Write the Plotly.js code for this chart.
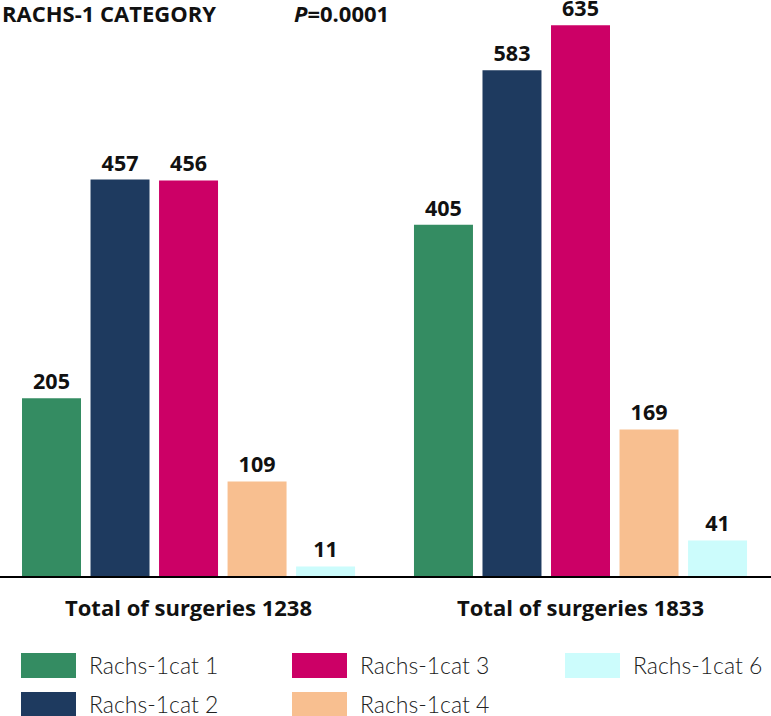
<!DOCTYPE html>
<html>
<head>
<meta charset="utf-8">
<script src="https://cdn.plot.ly/plotly-3.0.1.min.js"></script>
<style>html,body{margin:0;padding:0;background:#fff}#chart{width:771px;height:716px}</style>
</head>
<body>
<div id="chart"></div>
<script>
// Data
const groups = ["Total of surgeries 1238", "Total of surgeries 1833"];
const seriesNames = ["Rachs-1cat 1", "Rachs-1cat 2", "Rachs-1cat 3", "Rachs-1cat 4", "Rachs-1cat 6"];
const cat1 = [205, 405];
const cat2 = [457, 583];
const cat3 = [456, 635];
const cat4 = [109, 169];
const cat6 = [11, 41];
const seriesValues = [cat1, cat2, cat3, cat4, cat6];
const colors = ["#348c62", "#1e3a5f", "#cc0066", "#f8bf90", "#ccfcfc"];
const chartTitle = "RACHS-1 CATEGORY";
const pText = "<i>P</i>=0.0001";

const FONT = "Open Sans, Noto Sans, sans-serif";
const LFONT = "Lato, Open Sans, sans-serif";
const xPos = groups.map((g, i) => i);

const traces = seriesValues.map((vals, i) => ({
  type: "bar",
  name: seriesNames[i],
  x: xPos,
  y: vals,
  marker: { color: colors[i], line: { width: 0 } },
  text: vals.map(String),
  textposition: "outside",
  textfont: { family: FONT, size: 21.5, color: "#111", weight: 700 },
  cliponaxis: false,
  showlegend: false,
  hoverinfo: "skip"
}));

const H = 576; // plot height px
const toPaperY = px => (H - px) / H;

const annotations = [
  { text: "<b>" + chartTitle + "</b>", xref: "paper", yref: "paper", x: 0, y: toPaperY(13),
    xanchor: "left", yanchor: "middle", showarrow: false, font: { family: FONT, size: 22, color: "#111" } },
  { text: "<b>" + pText + "</b>", xref: "paper", yref: "paper", x: 292 / 771, y: toPaperY(13),
    xanchor: "left", yanchor: "middle", showarrow: false, font: { family: FONT, size: 22, color: "#111" } }
];
groups.forEach((g, i) => {
  annotations.push({ text: "<b>" + g + "</b>", xref: "x", yref: "paper", x: xPos[i], y: toPaperY(607),
    xanchor: "center", yanchor: "middle", showarrow: false, font: { family: FONT, size: 22, color: "#111" } });
});

// manual legend (column-major order)
const legendCells = [
  { idx: 0, x: 21, y: 653 }, { idx: 1, x: 21, y: 692 },
  { idx: 2, x: 292, y: 653 }, { idx: 3, x: 292, y: 692 },
  { idx: 4, x: 565, y: 653 }
];
const shapes = [];
legendCells.forEach(c => {
  shapes.push({ type: "rect", xref: "paper", yref: "paper",
    x0: c.x / 771, x1: (c.x + 55) / 771, y0: toPaperY(c.y + 25), y1: toPaperY(c.y),
    fillcolor: colors[c.idx], line: { width: 0 } });
  annotations.push({ text: seriesNames[c.idx], xref: "paper", yref: "paper",
    x: (c.x + 66) / 771, y: toPaperY(c.y + 12), xanchor: "left", yanchor: "middle",
    showarrow: false, font: { family: LFONT, size: 23, color: "#222", weight: 300 } });
});

const layout = {
  width: 771, height: 716,
  margin: { l: 0, r: 0, t: 0, b: 140, pad: 0 },
  paper_bgcolor: "#fff", plot_bgcolor: "#fff",
  barmode: "group", bargap: 0.126, bargroupgap: 0.139,
  showlegend: false,
  xaxis: { range: [-0.481, 1.486], showgrid: false, zeroline: false, showticklabels: false,
    ticks: "", showline: true, linecolor: "#000", linewidth: 2, fixedrange: true },
  yaxis: { range: [0, 664], visible: false, showgrid: false, zeroline: false, fixedrange: true },
  annotations: annotations,
  shapes: shapes,
  font: { family: FONT }
};

Plotly.newPlot("chart", traces, layout, { displayModeBar: false, staticPlot: true });
</script>
</body>
</html>
